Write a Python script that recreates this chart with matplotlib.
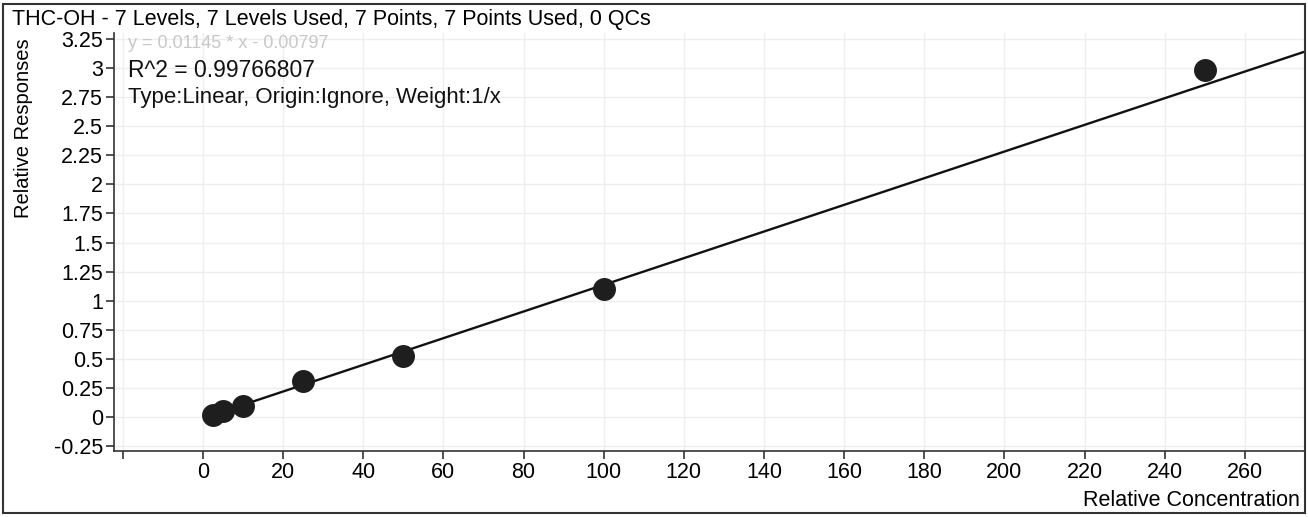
import matplotlib.pyplot as plt
from matplotlib.patches import Rectangle

plt.rcParams['font.family'] = ['Liberation Sans', 'DejaVu Sans']

# calibration levels and relative responses
conc = [2.5, 5, 10, 25, 50, 100, 250]
resp = [0.02, 0.055, 0.10, 0.31, 0.525, 1.10, 2.98]

# fitted line (linear, weight 1/x)
slope = 0.01145
intercept = -0.008
line_x = [2.5, 274.5]

xticks = [-20, 0, 20, 40, 60, 80, 100, 120, 140, 160, 180, 200, 220, 240, 260]
yticks = [-0.25, 0, 0.25, 0.5, 0.75, 1, 1.25, 1.5, 1.75, 2, 2.25, 2.5, 2.75, 3, 3.25]

title = 'THC-OH - 7 Levels, 7 Levels Used, 7 Points, 7 Points Used, 0 QCs'
eq_text = 'y = 0.01145 * x - 0.00797'
r2_text = 'R^2 = 0.99766807'
type_text = 'Type:Linear, Origin:Ignore, Weight:1/x'

fig = plt.figure(figsize=(13.08, 5.17), dpi=100)
ax = fig.add_axes([114 / 1308, 66 / 517, 1191 / 1308, 418 / 517])

ax.plot(line_x, [intercept + slope * v for v in line_x], color='#111111', lw=1.7, zorder=2)
ax.plot(conc, resp, 'o', color='#1e1e1e', markersize=15.5, zorder=3)

ax.set_xlim(-22.2, 275)
ax.set_ylim(-0.29, 3.3)
ax.set_xticks(xticks)
ax.set_xticklabels(['' if v == -20 else str(v) for v in xticks])
ax.set_yticks(yticks)
ax.set_yticklabels(['{:g}'.format(v) for v in yticks])
ax.tick_params(axis='both', labelsize=15.5, length=6, width=1.2, color='#333333', pad=2)
ax.grid(True, color='#eeeeee', lw=1)
ax.set_axisbelow(True)

for side in ['top', 'right']:
    ax.spines[side].set_visible(False)
ax.spines['left'].set_color('#333333')
ax.spines['bottom'].set_color('#333333')
ax.spines['left'].set_linewidth(1.2)
ax.spines['bottom'].set_linewidth(1.2)

ax.text(0.012, 0.975, eq_text, transform=ax.transAxes, fontsize=13, color='#c8c8c8', va='center')
ax.text(0.012, 0.91, r2_text, transform=ax.transAxes, fontsize=16.5, color='#111111', va='center')
ax.text(0.012, 0.845, type_text, transform=ax.transAxes, fontsize=16, color='#111111', va='center')

fig.text(12 / 1308, 1 - 19 / 517, title, fontsize=15.5, va='center', ha='left')
fig.text(24 / 1308, 1 - 128 / 517, 'Relative Responses', fontsize=14.5, rotation=90, va='center', ha='center')
fig.text(1300 / 1308, 1 - 501 / 517, 'Relative Concentration', fontsize=15.5, va='center', ha='right')

fig.patches.append(Rectangle((3 / 1308, 4 / 517), 1302 / 1308, 509 / 517, transform=fig.transFigure,
                             fill=False, edgecolor='#333333', lw=1.5))

fig.savefig('out.png', dpi=100)
